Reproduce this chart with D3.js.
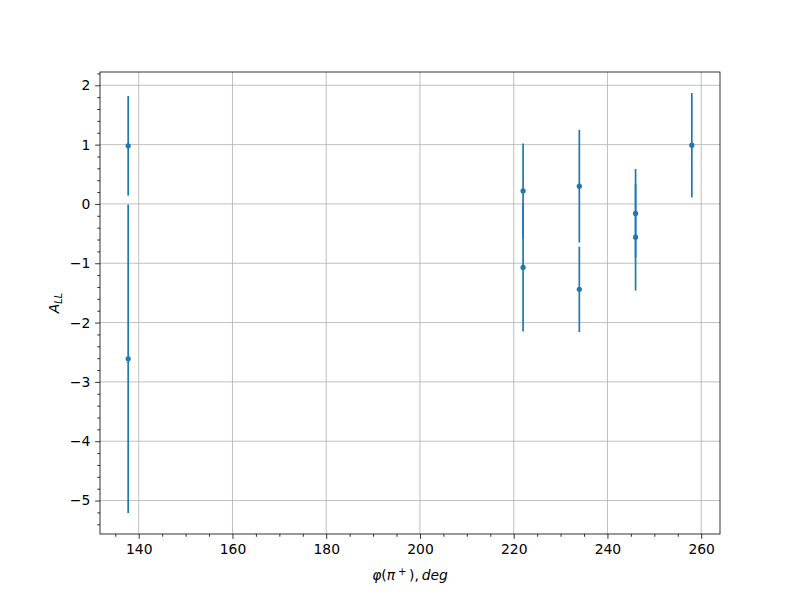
<!DOCTYPE html>
<html><head><meta charset="utf-8">
<script src="https://cdn.jsdelivr.net/npm/d3@7"></script>
<style>body{margin:0;background:#fff}svg{display:block}text{font-family:"DejaVu Sans",sans-serif}</style>
</head><body>
<svg id="c" width="800" height="600"></svg>
<script>
const xs = [137.75, 137.75, 222, 222, 234, 234, 246, 246, 258];
const ys = [0.98, -2.61, 0.22, -1.07, 0.30, -1.44, -0.16, -0.56, 0.99];
const errs = [0.84, 2.60, 0.80, 1.08, 0.95, 0.72, 0.75, 0.90, 0.88];
const xTicks = [140, 160, 180, 200, 220, 240, 260];
const yTicks = [-5, -4, -3, -2, -1, 0, 1, 2];

const svg = d3.select("#c");
const L = 100, R = 720, T = 72, B = 534;
const xmin = d3.min(xs), xmax = d3.max(xs);
const xm = (xmax - xmin) * 0.05;
const ylo = d3.min(ys.map((v, i) => v - errs[i])), yhi = d3.max(ys.map((v, i) => v + errs[i]));
const ym = (yhi - ylo) * 0.05;
const x = d3.scaleLinear().domain([xmin - xm, xmax + xm]).range([L, R]);
const y = d3.scaleLinear().domain([ylo - ym, yhi + ym]).range([B, T]);
const color = "#1f77b4";

// grid
const g = svg.append("g");
g.selectAll(".gx").data(xTicks).enter().append("line")
  .attr("x1", d => x(d)).attr("x2", d => x(d)).attr("y1", T).attr("y2", B)
  .attr("stroke", "#b0b0b0").attr("stroke-width", 0.8);
g.selectAll(".gy").data(yTicks).enter().append("line")
  .attr("y1", d => y(d)).attr("y2", d => y(d)).attr("x1", L).attr("x2", R)
  .attr("stroke", "#b0b0b0").attr("stroke-width", 0.8);

// error bars
const data = xs.map((v, i) => ({x: v, y: ys[i], e: errs[i]}));
svg.append("g").selectAll("line").data(data).enter().append("line")
  .attr("x1", d => x(d.x)).attr("x2", d => x(d.x))
  .attr("y1", d => y(d.y - d.e)).attr("y2", d => y(d.y + d.e))
  .attr("stroke", color).attr("stroke-width", 1.7);
svg.append("g").selectAll("circle").data(data).enter().append("circle")
  .attr("cx", d => x(d.x)).attr("cy", d => y(d.y)).attr("r", 2.6).attr("fill", color);

// axes
const fmt = d => d < 0 ? "\u2212" + Math.abs(d) : String(d);
const xMinor = d3.range(135, 265, 5).filter(v => v % 20 !== 0);
const yMinor = d3.range(-5.4, 2.21, 0.2).map(v => Math.round(v * 10) / 10).filter(v => Math.abs(v - Math.round(v)) > 1e-6);

const xAxis = svg.append("g").attr("transform", `translate(0,${B})`)
  .call(d3.axisBottom(x).tickValues(xTicks).tickFormat(fmt).tickSize(4.86).tickPadding(4.86));
const xAxisMinor = svg.append("g").attr("transform", `translate(0,${B})`)
  .call(d3.axisBottom(x).tickValues(xMinor).tickFormat("").tickSize(2.78));
const yAxis = svg.append("g").attr("transform", `translate(${L},0)`)
  .call(d3.axisLeft(y).tickValues(yTicks).tickFormat(fmt).tickSize(4.86).tickPadding(4.86));
const yAxisMinor = svg.append("g").attr("transform", `translate(${L},0)`)
  .call(d3.axisLeft(y).tickValues(yMinor).tickFormat("").tickSize(2.78));
[xAxis, xAxisMinor, yAxis, yAxisMinor].forEach(a => {
  a.select(".domain").remove();
  a.selectAll(".tick line").attr("stroke", "#000").attr("stroke-width", 0.8);
  a.selectAll("text").attr("font-size", "13.9px").attr("fill", "#000").attr("font-family", "DejaVu Sans");
});

// frame
svg.append("rect").attr("x", L).attr("y", T).attr("width", R - L).attr("height", B - T)
  .attr("fill", "none").attr("stroke", "#000").attr("stroke-width", 0.8);

// labels
const xl = svg.append("text").attr("x", (L + R) / 2).attr("y", 580)
  .attr("text-anchor", "middle").attr("font-size", "13.9px").attr("font-family", "DejaVu Sans");
xl.append("tspan").attr("font-style", "italic").text("\u03c6");
xl.append("tspan").text("(");
xl.append("tspan").attr("font-style", "italic").text("\u03c0\u2009");
xl.append("tspan").attr("font-size", "10px").attr("dy", -5).text("+");
xl.append("tspan").attr("dy", 5).text("\u2009),\u2009");
xl.append("tspan").attr("font-style", "italic").text("deg");

const yl = svg.append("text").attr("transform", "translate(59,303) rotate(-90)")
  .attr("text-anchor", "middle").attr("font-size", "13.9px").attr("font-family", "DejaVu Sans");
yl.append("tspan").attr("font-style", "italic").text("A");
yl.append("tspan").attr("font-style", "italic").attr("font-size", "9.7px").attr("dy", 3).text("LL");
</script>
</body></html>
